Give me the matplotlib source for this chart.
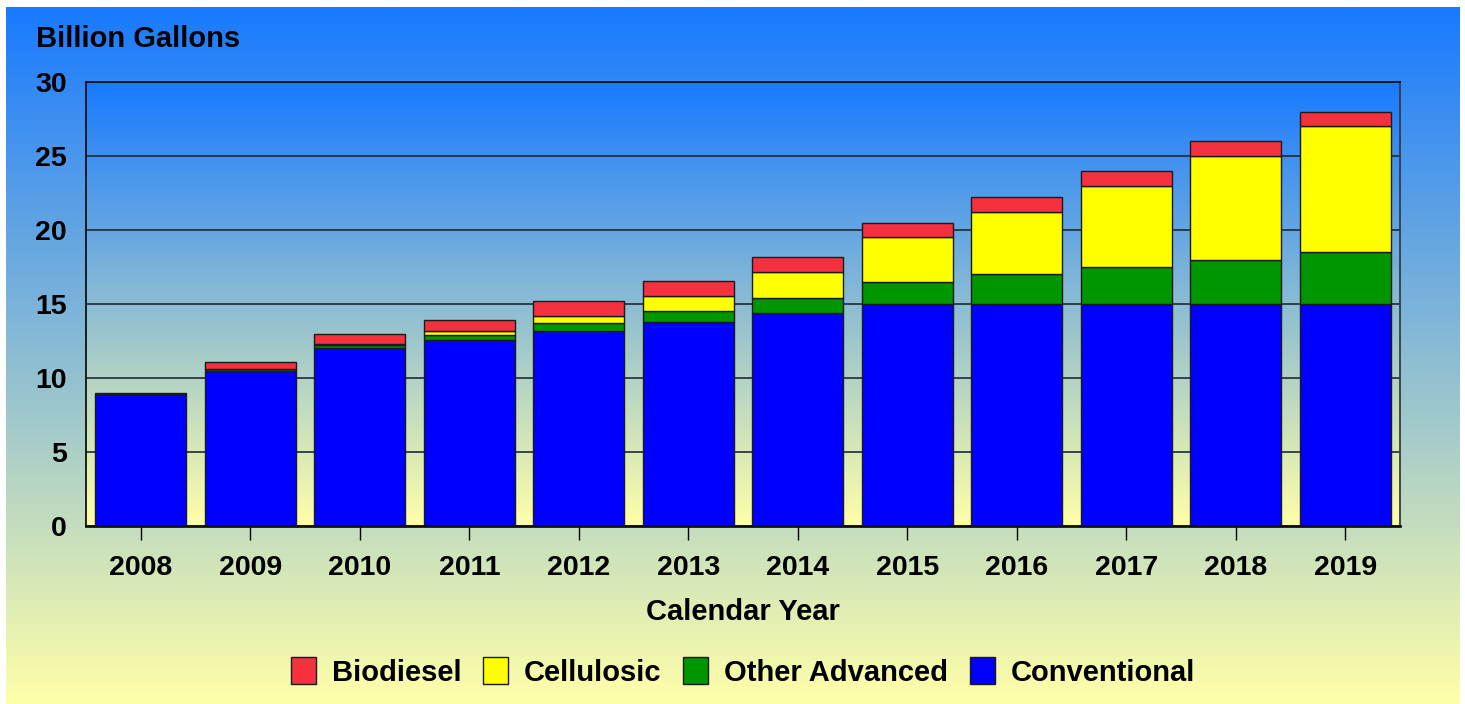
import numpy as np
import matplotlib
matplotlib.use("Agg")
import matplotlib.pyplot as plt

plt.rcParams['font.family'] = ['Liberation Sans', 'DejaVu Sans']
plt.rcParams['font.weight'] = 'bold'

years = ['2008', '2009', '2010', '2011', '2012', '2013',
         '2014', '2015', '2016', '2017', '2018', '2019']
conventional = [8.95, 10.5, 12.0, 12.6, 13.2, 13.8, 14.4, 15.0, 15.0, 15.0, 15.0, 15.0]
other_advanced = [0.0, 0.1, 0.2, 0.3, 0.5, 0.75, 1.0, 1.5, 2.0, 2.5, 3.0, 3.5]
cellulosic = [0.0, 0.0, 0.1, 0.25, 0.5, 1.0, 1.75, 3.0, 4.25, 5.5, 7.0, 8.5]
biodiesel = [0.05, 0.5, 0.65, 0.8, 1.0, 1.0, 1.0, 1.0, 1.0, 1.0, 1.0, 1.0]

W, H = 1465, 704
fig = plt.figure(figsize=(W / 100, H / 100), dpi=100)
fig.patch.set_facecolor('white')

top_col = np.array([24, 122, 255]) / 255
bot_col = np.array([255, 255, 168]) / 255


def vgrad(n=256):
    t = np.linspace(0, 1, n)[:, None]
    g = top_col * (1 - t) + bot_col * t
    return g[:, None, :]


# figure background gradient
bg = fig.add_axes([0, 0, 1, 1], zorder=-5)
bg.imshow(vgrad(), extent=(6, 1460, H, 7), aspect='auto', interpolation='bilinear')
bg.set_xlim(0, W)
bg.set_ylim(H, 0)
bg.axis('off')

ax = fig.add_axes([86 / W, 1 - 526 / H, (1400 - 86) / W, (526 - 82) / H])
ax.patch.set_alpha(0)

x = np.arange(len(years))
ax.set_xlim(-0.5, len(years) - 0.5)
ax.set_ylim(0, 30)
ax.imshow(vgrad(), extent=(-0.5, len(years) - 0.5, 0, 30), aspect='auto',
          interpolation='bilinear', zorder=0)

w = 0.83
ec = '#1a1a1a'
b1 = ax.bar(x, conventional, w, color='#0000ff', edgecolor=ec, linewidth=1, zorder=2)
bottom = np.array(conventional)
b2 = ax.bar(x, other_advanced, w, bottom=bottom, color='#009600', edgecolor=ec,
            linewidth=1, zorder=2)
bottom = bottom + np.array(other_advanced)
b3 = ax.bar(x, cellulosic, w, bottom=bottom, color='#ffff00', edgecolor=ec,
            linewidth=1, zorder=2)
bottom = bottom + np.array(cellulosic)
b4 = ax.bar(x, biodiesel, w, bottom=bottom, color='#f5303f', edgecolor=ec,
            linewidth=1, zorder=2)

ax.set_yticks([0, 5, 10, 15, 20, 25, 30])
ax.yaxis.grid(True, color='#1e2a33', linewidth=1.2)
ax.set_axisbelow(True)
ax.set_xticks(x)
ax.set_xticklabels(years)
ax.tick_params(axis='y', length=0, pad=14, labelsize=20.5)
ax.tick_params(axis='x', direction='out', length=10, width=1, pad=11, labelsize=20.5)
for s in ax.spines.values():
    s.set_color('#111111')
    s.set_linewidth(1.3)
ax.spines['right'].set_color('#333c44')
ax.spines['bottom'].set_linewidth(2)

ax.set_xlabel('Calendar Year', fontsize=21, fontweight='bold', labelpad=12)
fig.text(36 / W, 1 - 47 / H, 'Billion Gallons', fontsize=21, fontweight='bold',
         va='baseline', ha='left')

fig.legend([b4, b3, b2, b1], ['Biodiesel', 'Cellulosic', 'Other Advanced', 'Conventional'],
           loc='center', bbox_to_anchor=(743 / W, 1 - 672 / H), ncol=4, frameon=False,
           fontsize=21, handlelength=0.85, handleheight=1.0, handletextpad=0.55,
           columnspacing=0.75)

fig.savefig('out.png', dpi=100)
